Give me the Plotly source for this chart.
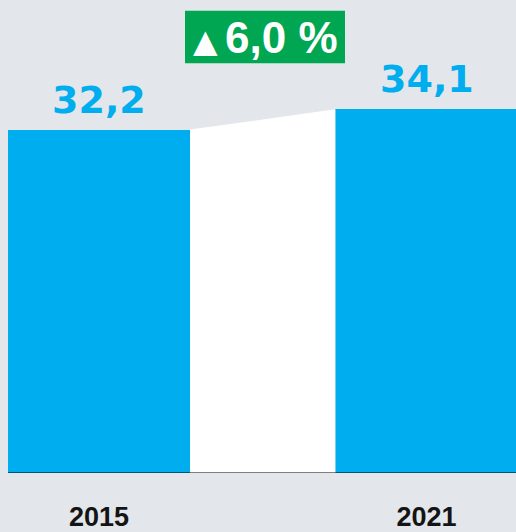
import plotly.graph_objects as go

years = ["2015", "2021"]
values = [32.2, 34.1]
value_labels = ["32,2", "34,1"]
change_label = "6,0 %"

BG = "#e3e7eb"
BLUE = "#00adee"
GREEN = "#00a651"

W, H = 516, 532
bar_w = 0.556
xs = list(range(len(years)))

fig = go.Figure()

# white connector between the two bars
x_left = xs[0] + bar_w / 2
x_right = xs[1] - bar_w / 2
fig.add_trace(go.Scatter(
    x=[x_left, x_right, x_right, x_left, x_left],
    y=[values[0], values[1], 0, 0, values[0]],
    fill="toself", fillcolor="white", mode="lines",
    line=dict(width=0, color="white"), hoverinfo="skip", showlegend=False,
))

fig.add_trace(go.Bar(
    x=xs, y=values, width=bar_w, marker=dict(color=BLUE, line=dict(width=0)),
    showlegend=False, hoverinfo="skip",
))

# value labels
for x, v, t in zip(xs, values, value_labels):
    fig.add_annotation(
        x=x, y=v, text=t, showarrow=False, xanchor="center", yanchor="bottom",
        yshift=6,
        font=dict(family="DejaVu Sans", size=38, color=BLUE, weight="bold"),
    )

# baseline
fig.add_shape(type="line", x0=xs[0] - bar_w / 2, x1=xs[1] + bar_w / 2, y0=0, y1=0,
              line=dict(color="rgba(0,0,0,0.5)", width=2), layer="above")

# change box
fig.add_shape(type="rect", xref="paper", yref="paper",
              x0=185 / W, x1=345 / W, y0=1 - 71 / H, y1=1 - 12 / H,
              fillcolor=GREEN, line=dict(width=0), layer="above")
fig.add_annotation(xref="paper", yref="paper", x=205 / W, y=1 - 46 / H,
                   text="▲", showarrow=False, xanchor="center", yanchor="middle",
                   font=dict(family="DejaVu Sans", size=32, color="white"))
fig.add_annotation(xref="paper", yref="paper", x=281 / W, y=1 - 42 / H,
                   text=change_label, showarrow=False, xanchor="center", yanchor="middle",
                   font=dict(family="Liberation Sans", size=44, color="white", weight="bold"))

y_top = 475 / 10.71
fig.update_layout(
    width=W, height=H,
    margin=dict(l=0, r=0, t=0, b=H - 475, pad=0),
    paper_bgcolor=BG, plot_bgcolor=BG,
    bargap=0,
    xaxis=dict(range=[-99 / 327.5, 417 / 327.5], tickvals=xs, ticktext=years,
               showgrid=False, zeroline=False, showline=False, ticks="",
               ticklabelstandoff=25,
               tickfont=dict(family="Liberation Sans", size=27, color="#141414", weight="bold"),
               fixedrange=True),
    yaxis=dict(range=[0, y_top], showgrid=False, zeroline=False, showticklabels=False,
               showline=False, ticks="", fixedrange=True),
)

fig.write_html(
    "out.html",
    config={"displayModeBar": False},
    post_script="document.body.style.margin='0';document.body.style.overflow='hidden';"
                "document.body.style.background='" + BG + "';",
)
